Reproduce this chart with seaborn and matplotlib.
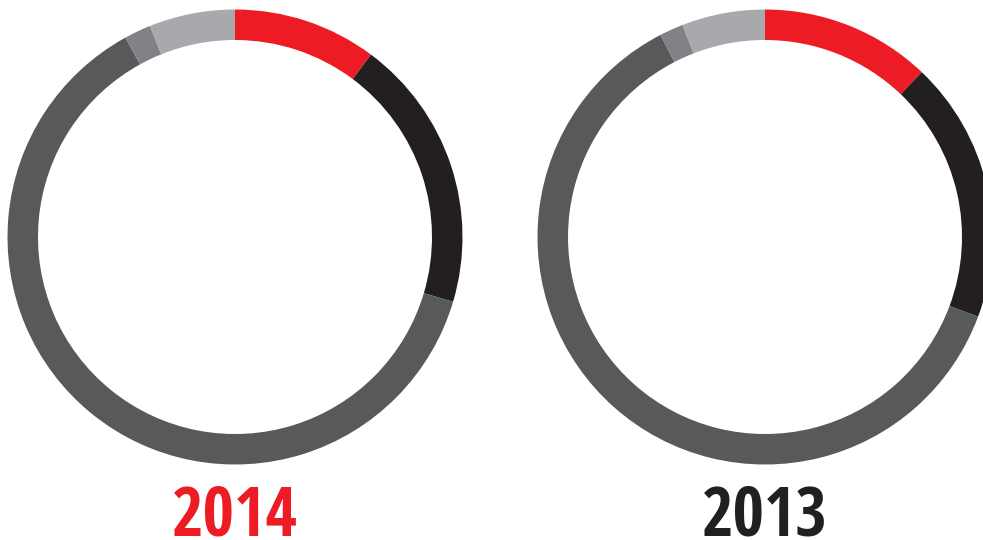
import matplotlib
matplotlib.use("Agg")
import matplotlib.pyplot as plt
import seaborn as sns

# ---- data ----
categories = ["Red", "Black", "Dark gray", "Medium gray", "Light gray"]
values_2014 = [10.2, 19.4, 62.4, 1.9, 6.1]
values_2013 = [12.1, 18.6, 61.7, 1.7, 5.9]
years = ["2014", "2013"]

colors = ["#ED1C24", "#231F20", "#58595B", "#808285", "#A7A9AC"]
year_colors = ["#ED1C24", "#231F20"]

sns.set_theme(style="white")
plt.rcParams["font.family"] = ["Open Sans Condensed", "IBM Plex Sans Condensed", "DejaVu Sans"]

W, H = 983, 540
fig = plt.figure(figsize=(W / 100, H / 100), dpi=100)
ax = fig.add_axes([0, 0, 1, 1])

centers = [(235, H - 237), (765, H - 237)]
R_OUT = 227.5
RING = 30.5

for vals, (cx, cy), yr, yc in zip([values_2014, values_2013], centers, years, year_colors):
    ax.pie(vals, colors=colors, startangle=90, counterclock=False,
           center=(cx, cy), radius=R_OUT,
           wedgeprops=dict(width=RING, edgecolor="none", linewidth=0))
    ax.text(cx, H - 536, yr, color=yc, fontsize=49, fontweight="bold",
            fontstretch="condensed", ha="center", va="baseline")

ax.set_xlim(0, W)
ax.set_ylim(0, H)
ax.set_aspect("equal")
ax.axis("off")

fig.savefig("out.png", dpi=100, facecolor="white")
